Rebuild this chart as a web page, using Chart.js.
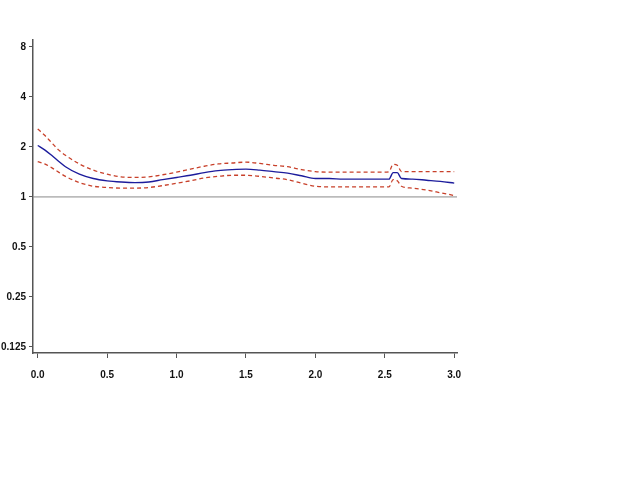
<!DOCTYPE html>
<html>
<head>
<meta charset="utf-8">
<script src="https://cdn.jsdelivr.net/npm/chart.js@4/dist/chart.umd.min.js"></script>
<style>
  html, body { margin: 0; padding: 0; background: #fff; }
  #wrap { width: 640px; height: 480px; position: relative; }
</style>
</head>
<body>
<div id="wrap"><canvas id="chart"></canvas></div>
<script>
// valores
const xs = [0, 0.05, 0.1, 0.15, 0.2, 0.3, 0.4, 0.5, 0.6, 0.7, 0.8, 0.9, 1.0, 1.1, 1.2, 1.3, 1.4, 1.5,
  1.6, 1.7, 1.8, 1.9, 2.0, 2.1, 2.2, 2.3, 2.4, 2.5, 2.53, 2.56, 2.59, 2.62, 2.7, 2.8, 2.9, 3.0];
const estimate = [2.04, 1.92, 1.78, 1.64, 1.52, 1.37, 1.29, 1.25, 1.23, 1.22, 1.23, 1.27, 1.31, 1.35, 1.40, 1.44, 1.46, 1.47,
  1.45, 1.42, 1.39, 1.34, 1.29, 1.29, 1.28, 1.28, 1.28, 1.28, 1.28, 1.40, 1.40, 1.29, 1.28, 1.26, 1.24, 1.21];
const upper = [2.56, 2.35, 2.12, 1.92, 1.78, 1.58, 1.45, 1.37, 1.32, 1.31, 1.32, 1.36, 1.41, 1.47, 1.53, 1.58, 1.60, 1.62,
  1.59, 1.55, 1.52, 1.46, 1.42, 1.41, 1.41, 1.41, 1.41, 1.41, 1.42, 1.57, 1.55, 1.42, 1.42, 1.42, 1.42, 1.42];
const lower = [1.63, 1.58, 1.50, 1.41, 1.33, 1.22, 1.16, 1.14, 1.13, 1.13, 1.14, 1.17, 1.21, 1.25, 1.30, 1.33, 1.35, 1.35,
  1.33, 1.30, 1.27, 1.21, 1.16, 1.15, 1.15, 1.15, 1.15, 1.15, 1.15, 1.27, 1.25, 1.16, 1.13, 1.10, 1.06, 1.02];
const refX = [-0.034, 3.02];
const refY = [1, 1];
const yTicks = [0.125, 0.25, 0.5, 1, 2, 4, 8];
const xTicks = [0, 0.5, 1.0, 1.5, 2.0, 2.5, 3.0];

const toPts = (xv, yv) => xv.map((x, i) => ({ x: x, y: yv[i] }));
const fuente = { family: "'Liberation Sans', Arial, sans-serif", size: 10, weight: "bold" };

const ctx = document.getElementById("chart").getContext("2d");

new Chart(ctx, {
  type: "line",
  data: {
    datasets: [
      {
        data: toPts(refX, refY),
        borderColor: "#8a8a8a",
        borderWidth: 1,
        pointRadius: 0,
      },
      {
        data: toPts(xs, upper),
        borderColor: "#c8402a",
        borderWidth: 1.3,
        borderDash: [4, 3],
        pointRadius: 0,
        cubicInterpolationMode: "monotone",
      },
      {
        data: toPts(xs, lower),
        borderColor: "#c8402a",
        borderWidth: 1.3,
        borderDash: [4, 3],
        pointRadius: 0,
        cubicInterpolationMode: "monotone",
      },
      {
        data: toPts(xs, estimate),
        borderColor: "#1c1c9c",
        borderWidth: 1.4,
        pointRadius: 0,
        cubicInterpolationMode: "monotone",
      },
    ],
  },
  options: {
    responsive: true,
    maintainAspectRatio: false,
    animation: false,
    layout: { padding: { left: 0, top: 40, right: 183, bottom: 97 } },
    plugins: { legend: { display: false }, tooltip: { enabled: false } },
    scales: {
      x: {
        type: "linear",
        min: -0.034,
        max: 3.02,
        afterBuildTicks: (axis) => { axis.ticks = xTicks.map((v) => ({ value: v })); },
        afterFit: (axis) => { axis.height = 30; },
        ticks: {
          color: "#111",
          font: fuente,
          padding: 11,
          maxRotation: 0,
          callback: (v) => Number(v).toFixed(1),
        },
        grid: { drawOnChartArea: false, drawTicks: true, tickLength: 5, color: "#555" },
        border: { display: true, color: "#555", width: 1.5 },
      },
      y: {
        type: "logarithmic",
        min: 0.115,
        max: 8.8,
        afterBuildTicks: (axis) => { axis.ticks = yTicks.map((v) => ({ value: v })); },
        afterFit: (axis) => { axis.width = 33; },
        ticks: {
          color: "#111",
          font: fuente,
          padding: 3,
          callback: (v) => String(v),
        },
        grid: { drawOnChartArea: false, drawTicks: true, tickLength: 4, color: "#555" },
        border: { display: true, color: "#555", width: 1.5 },
      },
    },
  },
});
</script>
</body>
</html>
